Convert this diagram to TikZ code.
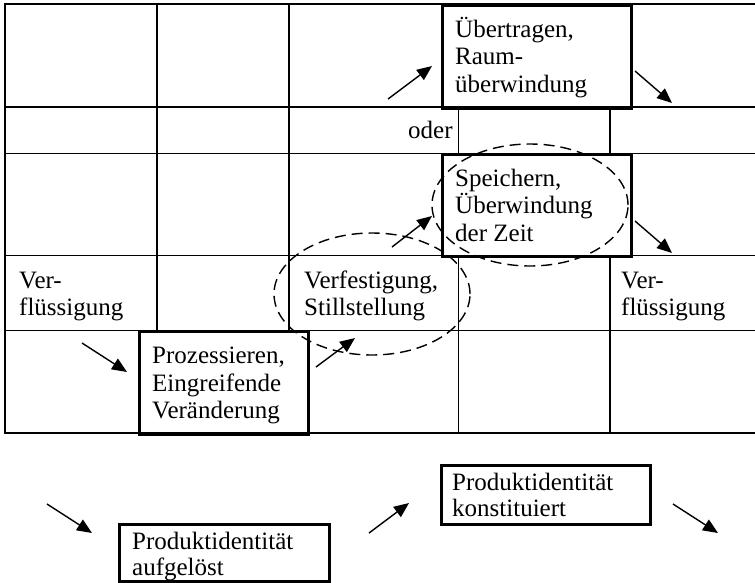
\documentclass[tikz,border=0pt]{standalone}
\usepackage{fontspec}
\setmainfont{Liberation Serif}
\usetikzlibrary{arrows.meta}
\newcommand\stk[1]{\vtop{\halign{##\hfil\cr#1\crcr}}}
\begin{document}
\begin{tikzpicture}[x=1pt,y=-1pt,
  grid/.style={line width=1.5pt},
  box/.style={draw,line width=2.6pt,inner sep=0pt,anchor=north west},
  txt/.style={anchor=base west,inner sep=0pt,font=\fontsize{25}{27.5}\selectfont},
  btxt/.style={anchor=base west,inner sep=0pt,font=\fontsize{25}{26}\selectfont},
  arr/.style={line width=1.4pt,-{Triangle[length=15pt,width=12.5pt]}},
  dashline/.style={line width=1.4pt,dash pattern=on 11pt off 6pt}]
\useasboundingbox (0,0) rectangle (755,582);
% table grid
\foreach \yy in {4,107,153.5,255.5,330.5,433}
  \draw[grid] (4.25,\yy) -- (755,\yy);
\draw[grid] (5,4) -- (5,433);
\draw[grid] (157,4) -- (157,330.5);
\draw[grid] (289,4) -- (289,330.5);
\draw[grid] (458.5,107) -- (458.5,153.5);
\draw[grid] (610,107) -- (610,153.5);
\draw[grid] (458.5,255.5) -- (458.5,433);
\draw[grid] (610,255.5) -- (610,433);
% framed cells
\node[box,minimum width=189pt,minimum height=103pt] (bUe) at (441,4) {};
\node[box,minimum width=189pt,minimum height=102pt] (bSp) at (441,153.5) {};
\node[box,minimum width=169pt,minimum height=102.5pt] (bPr) at (138,330.5) {};
\node[box,minimum width=209pt,minimum height=59pt] (bKo) at (440,464) {};
\node[box,minimum width=210pt,minimum height=57pt] (bAu) at (118,523) {};
% texts
\node[txt] (tUe) at (455,37) {\stk{Übertragen,\cr Raum-\cr überwindung}};
\node[txt] (tOd) at (408,138.5) {oder};
\node[txt] (tSp) at (455,186) {\stk{Speichern,\cr Überwindung\cr der Zeit}};
\node[txt] (tV1) at (19,288) {\stk{Ver-\cr flüssigung}};
\node[txt] (tVf) at (304,288) {\stk{Verfestigung,\cr Stillstellung}};
\node[txt] (tV2) at (621,288) {\stk{Ver-\cr flüssigung}};
\node[txt] (tPr) at (152,363.5) {\stk{Prozessieren,\cr Eingreifende\cr Veränderung}};
\node[btxt] (tKo) at (452,490) {\stk{Produktidentität\cr konstituiert}};
\node[btxt] (tAu) at (132,549) {\stk{Produktidentität\cr aufgelöst}};
% dashed ellipses
\draw[dashline] (530,205) ellipse [x radius=98pt,y radius=61pt];
\draw[dashline] (372,294) ellipse [x radius=98pt,y radius=61pt];
% arrows
\coordinate (a1s) at (388,99);  \coordinate (a1e) at (432,66);
\coordinate (a2s) at (635,71);  \coordinate (a2e) at (672,103);
\coordinate (a3s) at (392,247); \coordinate (a3e) at (432,216);
\coordinate (a4s) at (635,221); \coordinate (a4e) at (672,253);
\coordinate (a5s) at (316,367); \coordinate (a5e) at (355,338);
\coordinate (a6s) at (82,343);  \coordinate (a6e) at (127,372);
\coordinate (a7s) at (47,504);  \coordinate (a7e) at (92,533);
\coordinate (a8s) at (369,533); \coordinate (a8e) at (409,503);
\coordinate (a9s) at (673,504); \coordinate (a9e) at (718,533);
\foreach \i in {1,...,9} \draw[arr] (a\i s) -- (a\i e);
\end{tikzpicture}
\end{document}
